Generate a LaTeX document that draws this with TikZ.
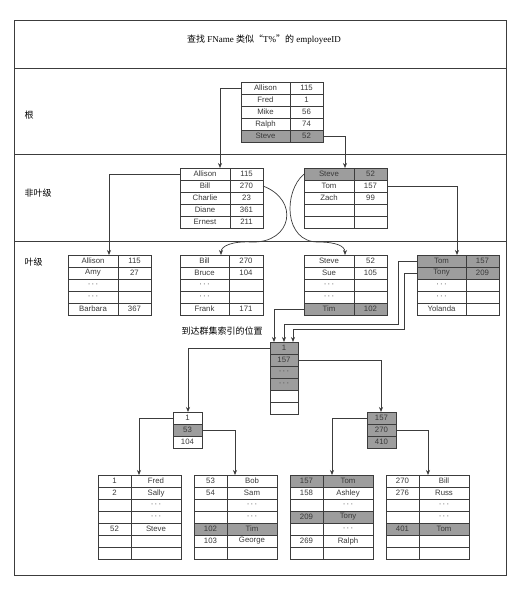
\documentclass[tikz,border=0pt]{standalone}
\usepackage{fontspec}
\setmainfont{Liberation Serif}
\newfontfamily\tablefont{Liberation Sans}
\newfontfamily\cjkfont{Noto Sans CJK SC}
\usetikzlibrary{calc}
\usetikzlibrary{arrows.meta}
\definecolor{rule}{HTML}{3c3c3c}
\definecolor{ink}{HTML}{3a3a3a}
\definecolor{hit}{HTML}{9d9d9d}

\begin{document}
\begin{tikzpicture}[
    x=1pt, y=-1pt,
    >={Stealth[length=5pt, width=4pt]},
    cell/.style={draw=rule, line width=0.6pt, minimum height=12pt, inner sep=0pt,
                 outer sep=0pt, anchor=north west,
                 font=\tablefont\fontsize{7.8}{8}\selectfont, text=ink},
    link/.style={->, draw=rule, line width=0.7pt},
    band/.style={draw=rule, line width=0.8pt},
    levellabel/.style={font=\cjkfont\fontsize{9}{10}\selectfont, anchor=west},
]

% ── Helpers: two-column index page, one-column key page ──
\newcommand{\skipdots}{{\color{ink}·\,·\,·}}
\newcommand{\drawtable}[6]{
    % #1 = name, #2 = left, #3 = top, #4/#5 = column widths, #6 = rows a/b/fill
    \foreach \a/\b/\c [count=\i] in {#6} {
        \node[cell, fill=\c, minimum width=#4pt] (#1-\i-a) at ({#2}, {#3+(\i-1)*12}) {\a};
        \node[cell, fill=\c, minimum width=#5pt] (#1-\i-b) at (#1-\i-a.north east) {\b};
    }
}
\newcommand{\drawkeys}[5]{
    % #1 = name, #2 = left, #3 = top, #4 = width, #5 = rows key/fill
    \foreach \a/\c [count=\i] in {#5} {
        \node[cell, fill=\c, minimum width=#4pt] (#1-\i) at ({#2}, {#3+(\i-1)*12}) {\a};
    }
}

\useasboundingbox (0,0) rectangle (525,589);

% ── Frame and level bands ──
\draw[band] (14,20) rectangle (506,575);
\foreach \y in {68,154,241} {
    \draw[band] (14,\y) -- (506,\y);
}

\node[font=\fontsize{9}{10}\selectfont] (title) at (264,40)
    {{\cjkfont 查找} FName {\cjkfont 类似“}T\%{\cjkfont ”的} employeeID};
\node[levellabel] (lroot) at (21,115) {根};
\node[levellabel] (lnonleaf) at (21,193) {非叶级};
\node[levellabel] (lleaf) at (21,262) {叶级};

% ══════════════════════════════════════════════════════════════
% Non-clustered index on FName
% ══════════════════════════════════════════════════════════════
\drawtable{root}{241}{82}{49}{33}{Allison/115/white, Fred/1/white, Mike/56/white,
    Ralph/74/white, Steve/52/hit}

\drawtable{nl}{180}{168}{50}{33}{Allison/115/white, Bill/270/white, Charlie/23/white,
    Diane/361/white, Ernest/211/white}
\drawtable{nr}{304}{168}{50}{33}{Steve/52/hit, Tom/157/white, Zach/99/white,
    {}/{}/white, {}/{}/white}

\drawtable{la}{68}{255}{50}{33}{Allison/115/white, Amy/27/white, \skipdots/{}/white,
    \skipdots/{}/white, Barbara/367/white}
\drawtable{lb}{180}{255}{49}{34}{Bill/270/white, Bruce/104/white, \skipdots/{}/white,
    \skipdots/{}/white, Frank/171/white}
\drawtable{lc}{304}{255}{50}{33}{Steve/52/white, Sue/105/white, \skipdots/{}/white,
    \skipdots/{}/white, Tim/102/hit}
\drawtable{ld}{417}{255}{49}{33}{Tom/157/hit, Tony/209/hit, \skipdots/{}/white,
    \skipdots/{}/white, Yolanda/{}/white}

\node[font=\cjkfont\fontsize{9}{10}\selectfont] (reach) at (222,331) {到达群集索引的位置};

% ══════════════════════════════════════════════════════════════
% Clustered index on employeeID
% ══════════════════════════════════════════════════════════════
\drawkeys{mid}{270}{342}{28}{1/hit, 157/hit, \skipdots/hit, \skipdots/hit,
    {}/white, {}/white}
\drawkeys{sl}{173}{412}{29}{1/white, 53/hit, 104/white}
\drawkeys{sr}{367}{412}{29}{157/hit, 270/hit, 410/hit}

\drawtable{ba}{98}{475}{33}{50}{1/Fred/white, 2/Sally/white, {}/\skipdots/white,
    {}/\skipdots/white, 52/Steve/white, {}/{}/white, {}/{}/white}
\drawtable{bb}{194}{475}{33}{50}{53/Bob/white, 54/Sam/white, {}/\skipdots/white,
    {}/\skipdots/white, 102/Tim/hit, 103/George/white, {}/{}/white}
\drawtable{bc}{290}{475}{33}{50}{157/Tom/hit, 158/Ashley/white, {}/\skipdots/white,
    209/Tony/hit, {}/\skipdots/white, 269/Ralph/white, {}/{}/white}
\drawtable{bd}{386}{475}{33}{50}{270/Bill/white, 276/Russ/white, {}/\skipdots/white,
    {}/\skipdots/white, 401/Tom/hit, {}/{}/white, {}/{}/white}

% ── Pointers ──
\draw[link] (root-1-a.west) -| ([xshift=40]nl-1-a.north west);
\draw[link] (root-5-b.east) -| ([xshift=41]nr-1-a.north west);
\draw[link] (nl-1-a.west) -| ([xshift=41]la-1-a.north west);
\draw[link] (nl-2-b.east) .. controls (300,200) and (292,243) .. (252,242)
    .. controls (232,241) and (221,246) .. ([xshift=41]lb-1-a.north west);
\draw[link] (nr-1-a.west) .. controls (283,192) and (284,242) .. (318,242)
    .. controls (336,242) and (345,246) .. ([xshift=41]lc-1-a.north west);
\draw[link] (nr-2-b.east) -| ([xshift=40]ld-1-a.north west);

\draw[link] (lc-5-a.west) -| ([xshift=4]mid-1.north west);
\draw[link] (ld-1-a.west) -- ++(-19,0) -- ++(0,63) -| ([xshift=14]mid-1.north west);
\draw[link] (ld-2-a.west) -- ++(-13,0) -- ++(0,56) -| ([xshift=23]mid-1.north west);

\draw[link] (mid-1.west) -| ([xshift=15]sl-1.north west);
\draw[link] (mid-2.east) -| ([xshift=14]sr-1.north west);

\draw[link] (sl-1.west) -| ([xshift=41]ba-1-a.north west);
\draw[link] (sl-2.east) -| ([xshift=41]bb-1-a.north west);
\draw[link] (sr-1.west) -| ([xshift=42]bc-1-a.north west);
\draw[link] (sr-2.east) -| ([xshift=42]bd-1-a.north west);

\end{tikzpicture}
\end{document}
